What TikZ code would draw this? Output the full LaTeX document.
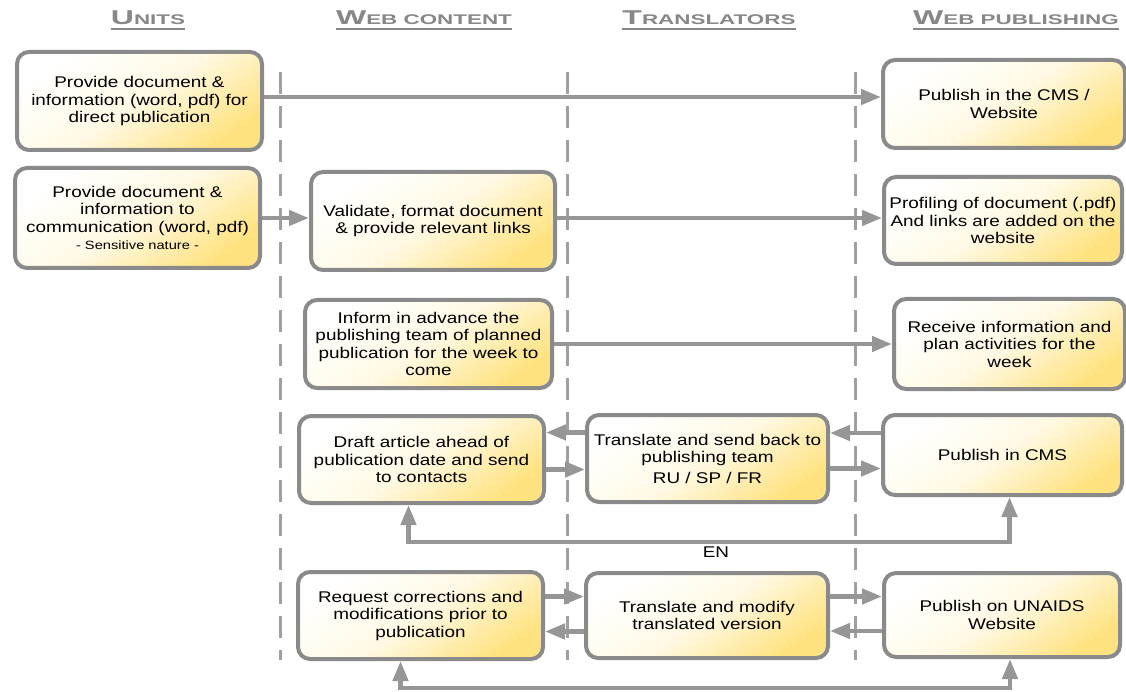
\documentclass[tikz,border=0pt]{standalone}
\usepackage{fontspec}
\setmainfont{Liberation Sans}
\newfontfamily\boxfont[FakeStretch=1.22]{Liberation Sans}
\newfontfamily\headfont[FakeStretch=1.6]{Liberation Sans}
\usetikzlibrary{arrows.meta}
\definecolor{boxgray}{RGB}{138,138,138}
\definecolor{linegray}{RGB}{150,150,150}
\definecolor{lanegray}{RGB}{160,160,160}
\definecolor{headgray}{RGB}{135,135,135}
\definecolor{boxgold}{RGB}{255,226,128}
\definecolor{boxcream}{RGB}{255,249,228}
\newcommand{\lanehead}[2]{{\fontsize{20pt}{20pt}\selectfont #1}{\fontsize{14pt}{14pt}\selectfont #2}}
\tikzset{
  task/.style={draw=boxgray, line width=4pt, rounded corners=12pt,
    top color=white, bottom color=boxgold, middle color=boxcream, shading angle=35,
    align=center, inner sep=0pt, text=black,
    font=\boxfont\fontsize{15.5pt}{17.5pt}\selectfont},
  flow/.style={draw=linegray, line width=4.5pt, -{Triangle[length=20pt,width=15pt]}},
  twoway/.style={draw=linegray, line width=4.5pt,
    {Triangle[length=20pt,width=15pt]}-{Triangle[length=20pt,width=15pt]}},
  lane/.style={draw=lanegray, line width=3pt, dash pattern=on 22pt off 12pt},
  lanetitle/.style={font=\headfont\bfseries, text=headgray, inner sep=0pt, anchor=base},
  headrule/.style={draw=headgray, line width=1.6pt},
}
\begin{document}
\begin{tikzpicture}[x=1pt,y=-1pt]
    \useasboundingbox (0,0) rectangle (1126,692);
    \fill[white] (0,0) rectangle (1126,692);
    % lane titles
    \node[lanetitle] (hunits) at (148,25) {\lanehead{U}{NITS}};
    \node[lanetitle] (hweb) at (424,25) {\lanehead{W}{EB CONTENT}};
    \node[lanetitle] (htrans) at (709,25) {\lanehead{T}{RANSLATORS}};
    \node[lanetitle] (hpub) at (1016,25) {\lanehead{W}{EB PUBLISHING}};
    \foreach \h in {hunits,hweb,htrans,hpub}
        \draw[headrule] ([yshift=-4pt]\h.base west) -- ([yshift=-4pt]\h.base east);
    % lane separators
    \foreach \x in {280,567,855}
        \draw[lane] (\x,72) -- (\x,660);
    % units
    \node[task, minimum width=245pt, minimum height=98pt] (b1) at (139.5,101)
        {Provide document \&\\information (word, pdf) for\\direct publication};
    \node[task, minimum width=245pt, minimum height=100pt] (b2) at (137.5,218)
        {Provide document \&\\information to\\communication (word, pdf)\\{\fontsize{12pt}{14pt}\selectfont - Sensitive nature -}};
    % web content
    \node[task, minimum width=244pt, minimum height=98pt] (b3) at (433,221)
        {Validate, format document\\\& provide relevant links};
    \node[task, minimum width=247pt, minimum height=88pt] (b4) at (428.5,344)
        {Inform in advance the\\publishing team of planned\\publication for the week to\\come};
    \node[task, minimum width=245pt, minimum height=87pt] (b5) at (421.5,459.5)
        {Draft article ahead of\\publication date and send\\to contacts};
    \node[task, minimum width=245pt, minimum height=87pt] (b7) at (420.5,615.5)
        {Request corrections and\\modifications prior to\\publication};
    % translators
    \node[task, minimum width=241pt, minimum height=87pt] (b6) at (707.5,458.5)
        {Translate and send back to\\publishing team\\[3pt]RU / SP / FR};
    \node[task, minimum width=242pt, minimum height=85pt] (b8) at (707,615.5)
        {Translate and modify\\translated version};
    % web publishing
    \node[task, minimum width=242pt, minimum height=88pt] (b9) at (1004,104)
        {Publish in the CMS /\\Website};
    \node[task, minimum width=238pt, minimum height=87pt] (b10) at (1003,220.5)
        {Profiling of document (.pdf)\\And links are added on the\\website};
    \node[task, minimum width=231pt, minimum height=90pt] (b11) at (1009.5,344)
        {Receive information and\\plan activities for the\\week};
    \node[task, minimum width=239pt, minimum height=80pt] (b12) at (1002.5,455)
        {Publish in CMS};
    \node[task, minimum width=236pt, minimum height=84pt] (b13) at (1002,615)
        {Publish on UNAIDS\\Website};
    % connectors
    \draw[flow] ([yshift=4pt]b1.east) -- ([yshift=4pt]b1.east -| b9.west);
    \draw[flow] (b2.east) -- (b2.east -| b3.west);
    \draw[flow] ([yshift=3pt]b3.east) -- ([yshift=3pt]b3.east -| b10.west);
    \draw[flow] (b4.east) -- (b4.east -| b11.west);
    \draw[flow] ([yshift=26pt]b6.west) -- ([yshift=26pt]b6.west -| b5.east);
    \draw[flow] ([yshift=-10pt]b5.east) -- ([yshift=-10pt]b5.east -| b6.west);
    \draw[flow] ([yshift=-10pt]b6.east) -- ([yshift=-10pt]b6.east -| b12.west);
    \draw[flow] ([yshift=22pt]b12.west) -- ([yshift=22pt]b12.west -| b6.east);
    \draw[twoway] ([xshift=-13pt]b5.south) -- ++(0,37) -| ([xshift=7pt]b12.south);
    \node[font=\boxfont\fontsize{15.5pt}{17.5pt}\selectfont, inner sep=0pt, anchor=base] (enlabel) at (716,557) {EN};
    \draw[flow] ([yshift=19pt]b7.east) -- ([yshift=19pt]b7.east -| b8.west);
    \draw[flow] ([yshift=19pt]b8.east) -- ([yshift=19pt]b8.east -| b13.west);
    \draw[flow] ([yshift=-16pt]b8.west) -- ([yshift=-16pt]b8.west -| b7.east);
    \draw[flow] ([yshift=-16pt]b13.west) -- ([yshift=-16pt]b13.west -| b8.east);
    \draw[twoway] ([xshift=-20pt]b7.south) -- ++(0,27) -| ([xshift=8pt]b13.south);
\end{tikzpicture}
\end{document}
